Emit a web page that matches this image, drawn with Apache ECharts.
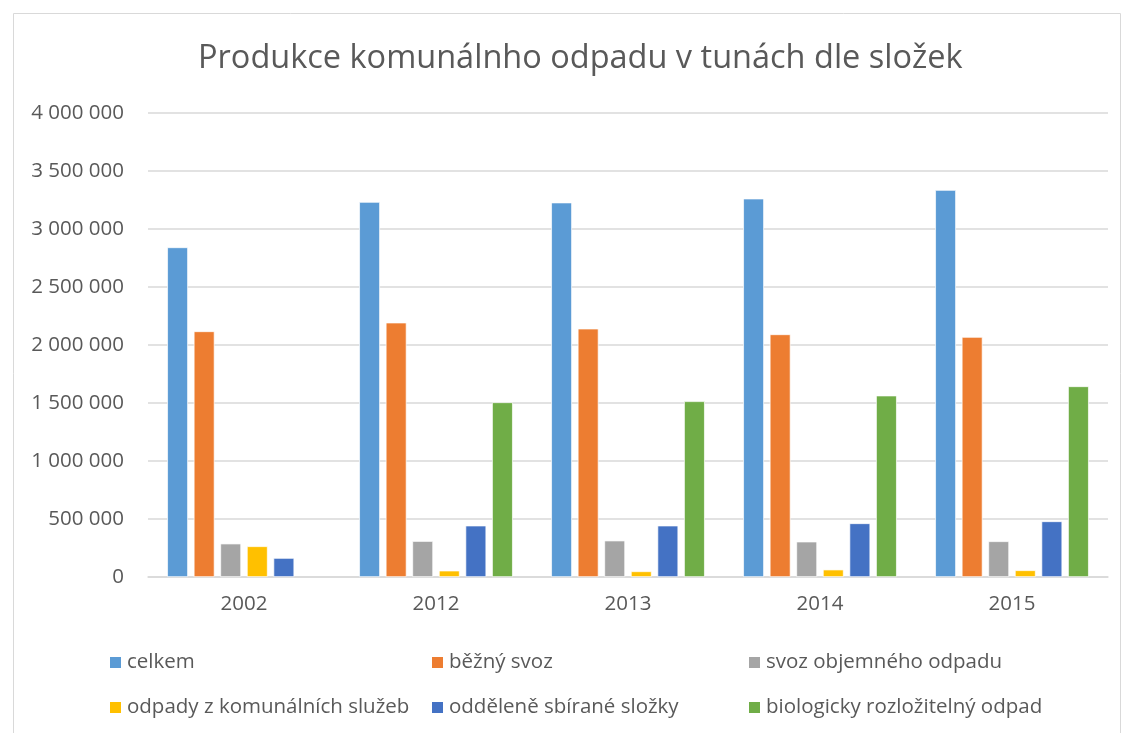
<!DOCTYPE html>
<html>
<head>
<meta charset="utf-8">
<script src="https://cdn.jsdelivr.net/npm/echarts@6/dist/echarts.min.js"></script>
<style>
  html, body { margin: 0; padding: 0; background: #fff; }
  #chart { width: 1128px; height: 733px; }
</style>
</head>
<body>
<div id="chart"></div>
<script>
// data
let roky = ['2002', '2012', '2013', '2014', '2015'];
let nazvy = ['celkem', 'běžný svoz', 'svoz objemného odpadu',
             'odpady z komunálních služeb', 'odděleně sbírané složky', 'biologicky rozložitelný odpad'];
let celkem = [2842000, 3233000, 3228000, 3262000, 3336000];
let beznySvoz = [2118000, 2193000, 2141000, 2092000, 2069000];
let objemny = [288000, 310000, 314000, 305000, 308000];
let sluzby = [265000, 55000, 49000, 64000, 58000];
let oddelene = [164000, 443000, 443000, 463000, 480000];
let bio = [null, 1506000, 1515000, 1564000, 1644000];
let yTicks = [0, 500000, 1000000, 1500000, 2000000, 2500000, 3000000, 3500000, 4000000];

let barvy = ['#5B9BD5', '#ED7D31', '#A5A5A5', '#FFC000', '#4472C4', '#70AD47'];
let hodnoty = [celkem, beznySvoz, objemny, sluzby, oddelene, bio];

let chart = echarts.init(document.getElementById('chart'));

let pismo = '"Open Sans", Lato, sans-serif';

// legenda ve dvou radcich po trech sloupcich
let legendX = [103, 425, 742];
let legendY = [647, 692];
let legendy = nazvy.map(function (n, i) {
    return {
        data: [n],
        left: legendX[i % 3],
        top: legendY[Math.floor(i / 3)],
        itemWidth: 13,
        itemHeight: 13,
        itemGap: 0,
        icon: 'rect',
        textStyle: { color: '#595959', fontSize: 20.5, fontFamily: pismo, padding: [0, 0, 0, 0] },
        selectedMode: false
    };
});

let option = {
    animation: false,
    color: barvy,
    title: {
        text: 'Produkce komunálnho odpadu v tunách dle složek',
        left: 193,
        top: 37,
        textStyle: { color: '#595959', fontSize: 32.5, fontWeight: 'normal', fontFamily: pismo }
    },
    graphic: [{
        type: 'rect',
        shape: { x: 13.5, y: 13.5, width: 1107, height: 740 },
        style: { fill: 'none', stroke: '#d9d9d9', lineWidth: 1 },
        silent: true
    }],
    legend: legendy,
    grid: { left: 148, right: 20, top: 113, bottom: 156, containLabel: false },
    xAxis: {
        type: 'category',
        data: roky,
        axisTick: { show: false },
        axisLine: { lineStyle: { color: '#d9d9d9', width: 1.5 } },
        axisLabel: { color: '#595959', fontSize: 20.5, fontFamily: pismo, margin: 17 }
    },
    yAxis: {
        type: 'value',
        min: yTicks[0],
        max: yTicks[yTicks.length - 1],
        interval: yTicks[1] - yTicks[0],
        axisLine: { show: false },
        axisTick: { show: false },
        splitLine: { lineStyle: { color: '#d9d9d9', width: 1.5 } },
        axisLabel: {
            color: '#595959', fontSize: 20.5, fontFamily: pismo, margin: 24,
            formatter: function (v) {
                return String(v).replace(/\B(?=(\d{3})+(?!\d))/g, ' ');
            }
        }
    },
    series: nazvy.map(function (n, i) {
        return {
            name: n,
            type: 'bar',
            data: hodnoty[i],
            barGap: '28%',
            barCategoryGap: '20%',
            itemStyle: { color: barvy[i], borderColor: '#ffffff', borderWidth: 0.7 }
        };
    })
};

chart.setOption(option);
</script>
</body>
</html>
